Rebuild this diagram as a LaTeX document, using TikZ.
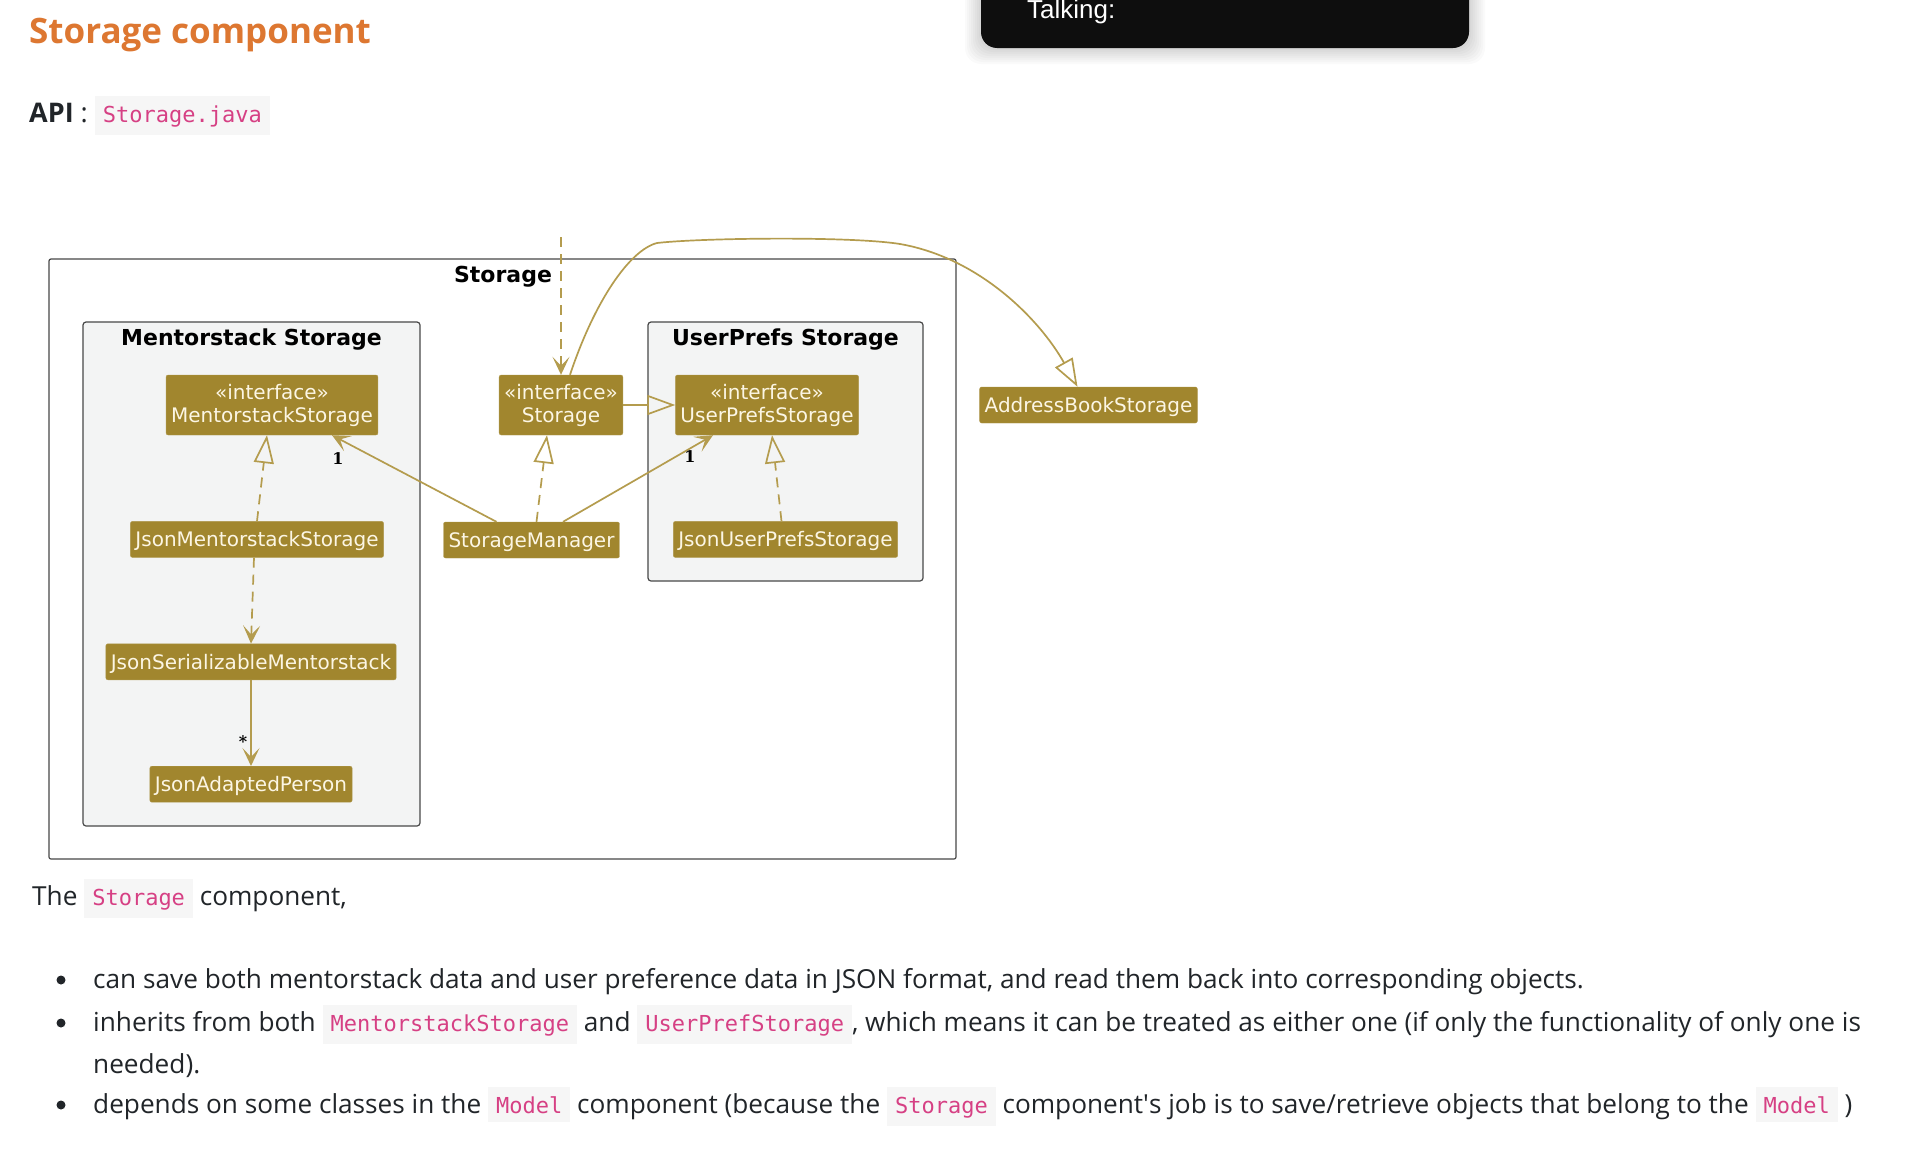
\documentclass[tikz,border=0pt]{standalone}
\usepackage{fontspec}
\setmainfont{Open Sans}
\newfontfamily\umlFont{DejaVu Sans}
\newfontfamily\umlSerif{DejaVu Serif}
\newfontfamily\codeFont{DejaVu Sans Mono}
\newfontfamily\talkFont{Liberation Sans}
\usepackage{tikz}
\usetikzlibrary{arrows.meta}
\usetikzlibrary{positioning}

\definecolor{umlGold}{RGB}{161,134,46}
\definecolor{umlEdge}{RGB}{180,156,78}
\definecolor{umlText}{RGB}{252,246,228}
\definecolor{pkgFill}{RGB}{243,244,244}
\definecolor{pkgLine}{RGB}{72,72,72}
\definecolor{headOrange}{RGB}{221,119,49}
\definecolor{bodyText}{RGB}{33,37,41}
\definecolor{codePink}{RGB}{214,64,132}
\definecolor{codeBg}{RGB}{246,246,246}
\definecolor{talkBlack}{RGB}{14,14,14}

\newcommand{\inlineCode}[1]{{\setlength{\fboxsep}{8pt}\colorbox{codeBg}{\rule[-1pt]{0pt}{19pt}\codeFont\fontsize{22}{26}\selectfont\color{codePink}#1}}}

\begin{document}
\begin{tikzpicture}
      [x=1pt,y=-1pt,node distance=86pt,
       bodyLine/.style={anchor=base west,inner sep=0pt,text=bodyText,font=\fontsize{26.2}{30}\selectfont},
       bulletDot/.style={circle,fill=bodyText,inner sep=0pt,minimum size=9pt},
       classBase/.style={rectangle,fill=umlGold,draw=umlGold!85!white,rounded corners=2pt,text=umlText,
         font=\umlFont\fontsize{20}{23}\selectfont,inner xsep=5pt,inner ysep=0pt},
       classBox/.style={classBase,minimum height=36pt,text height=15pt,text depth=0pt},
       ifaceBox/.style={classBase,align=center,minimum height=60pt},
       pkgBox/.style={draw=pkgLine,fill=pkgFill,line width=1.2pt,rounded corners=3pt},
       pkgTitle/.style={anchor=base,inner sep=0pt,font=\umlFont\bfseries\fontsize{22}{26}\selectfont},
       multLabel/.style={inner sep=0pt,font=\umlSerif\bfseries\fontsize{16}{18}\selectfont},
       umlLine/.style={draw=umlEdge,line width=1.7pt},
       assocLine/.style={umlLine,-{Stealth[length=18pt,width=17pt,inset=9pt]}},
       dependLine/.style={assocLine,dash pattern=on 10pt off 7pt},
       inheritLine/.style={umlLine,-{Triangle[open,length=28pt,width=20pt]}},
       realizeLine/.style={inheritLine,dash pattern=on 10pt off 7pt}]
      \useasboundingbox (0,0) rectangle (1906,1154);
      \fill[white] (0,0) rectangle (1906,1154);

      \foreach \s in {1,...,8}
        \fill[black,opacity=0.018,rounded corners=16pt] (981-2*\s,-40) rectangle (1469+2*\s,48+2*\s);
      \fill[talkBlack,rounded corners=16pt] (981,-40) rectangle (1469,48);
      \node[anchor=base west,inner sep=0pt,text=white,font=\talkFont\fontsize{26}{30}\selectfont] (talkingLabel) at (1027,18) {Talking:};

      \node[anchor=base west,inner sep=0pt,text=headOrange,font=\bfseries\fontsize{35}{40}\selectfont] (heading) at (29,43) {Storage component};
      \node[bodyLine,font=\fontsize{27}{30}\selectfont] (apiLine) at (29,122) {\textbf{API} : \inlineCode{Storage.java}};

      \draw[draw=pkgLine,fill=white,line width=1.2pt,rounded corners=2pt] (49,259) rectangle (956,859);
      \node[pkgTitle] (storageTitle) at (503,282) {Storage};
      \draw[pkgBox] (83,322) rectangle (420,826);
      \node[pkgTitle] (mentorstackTitle) at (251.5,345) {Mentorstack Storage};
      \draw[pkgBox] (648,322) rectangle (923,581);
      \node[pkgTitle] (userPrefsTitle) at (785.5,345) {UserPrefs Storage};

      \node[ifaceBox] (mentorstackIf) at (272,405) {«interface»\\MentorstackStorage};
      \node[classBox] (jsonMentorstack) [below=of mentorstackIf,xshift=-15pt] {JsonMentorstackStorage};
      \node[classBox] (jsonSerializable) [below=of jsonMentorstack,xshift=-6pt] {JsonSerializableMentorstack};
      \node[classBox] (jsonAdapted) [below=of jsonSerializable] {JsonAdaptedPerson};
      \node[ifaceBox] (storageIf) at (561,405) {«interface»\\Storage};
      \node[classBox] (storageManager) at (531.5,540) {StorageManager};
      \node[ifaceBox] (userPrefsIf) at (767,405) {«interface»\\UserPrefsStorage};
      \node[classBox] (jsonUserPrefs) [below=of userPrefsIf,xshift=18.5pt] {JsonUserPrefsStorage};
      \node[classBox] (addressBook) at (1088.5,405) {AddressBookStorage};
      \coordinate (apiEntry) at (561,237);

      \draw[dependLine] (apiEntry) -- (storageIf.north);
      \draw[inheritLine] ([xshift=9pt]storageIf.north) .. controls (595,300) and (630,250) .. (657,243)
        .. controls (700,238) and (850,236) .. (900,244)
        .. controls (980,258) and (1040,320) .. ([xshift=-11pt]addressBook.north);
      \draw[inheritLine] (storageIf.east) -- (userPrefsIf.west);
      \draw[realizeLine] ([xshift=5pt]storageManager.north) -- ([xshift=-14pt]storageIf.south);
      \draw[realizeLine] (jsonMentorstack.north) -- ([xshift=-5pt]mentorstackIf.south);
      \draw[realizeLine] ([xshift=-4pt]jsonUserPrefs.north) -- ([xshift=5pt]userPrefsIf.south);
      \draw[assocLine] ([xshift=-35pt]storageManager.north) -- ([xshift=60pt]mentorstackIf.south)
        node[multLabel,pos=1,xshift=6pt,yshift=-23pt] (multMentorstack) {1};
      \draw[assocLine] ([xshift=31.5pt]storageManager.north) -- ([xshift=-54pt]userPrefsIf.south)
        node[multLabel,pos=1,xshift=-23pt,yshift=-21pt] (multUserPrefs) {1};
      \draw[dependLine] ([xshift=-3pt]jsonMentorstack.south) -- (jsonSerializable.north);
      \draw[assocLine] (jsonSerializable.south) -- (jsonAdapted.north)
        node[multLabel,pos=1,xshift=-8pt,yshift=24pt] (multPersons) {*};

      \node[bodyLine] (introLine) at (32,905) {The \inlineCode{Storage} component,};
      \node[bulletDot] (bulletA) at (61,980) {};
      \node[bodyLine] (pointA) at (93,988) {can save both mentorstack data and user preference data in JSON format, and read them back into corresponding objects.};
      \node[bulletDot] (bulletB) at (61,1023) {};
      \node[bodyLine] (pointB) at (93,1031) {inherits from both \inlineCode{MentorstackStorage} and \inlineCode{UserPrefStorage}, which means it can be treated as either one (if only the functionality of only one is};
      \node[bodyLine] (pointBCont) at (93,1073) {needed).};
      \node[bulletDot] (bulletC) at (61,1105) {};
      \node[bodyLine] (pointC) at (93,1113) {depends on some classes in the \inlineCode{Model} component (because the \inlineCode{Storage} component\textquotesingle s job is to save/retrieve objects that belong to the \inlineCode{Model} )};
    \end{tikzpicture}
\end{document}
